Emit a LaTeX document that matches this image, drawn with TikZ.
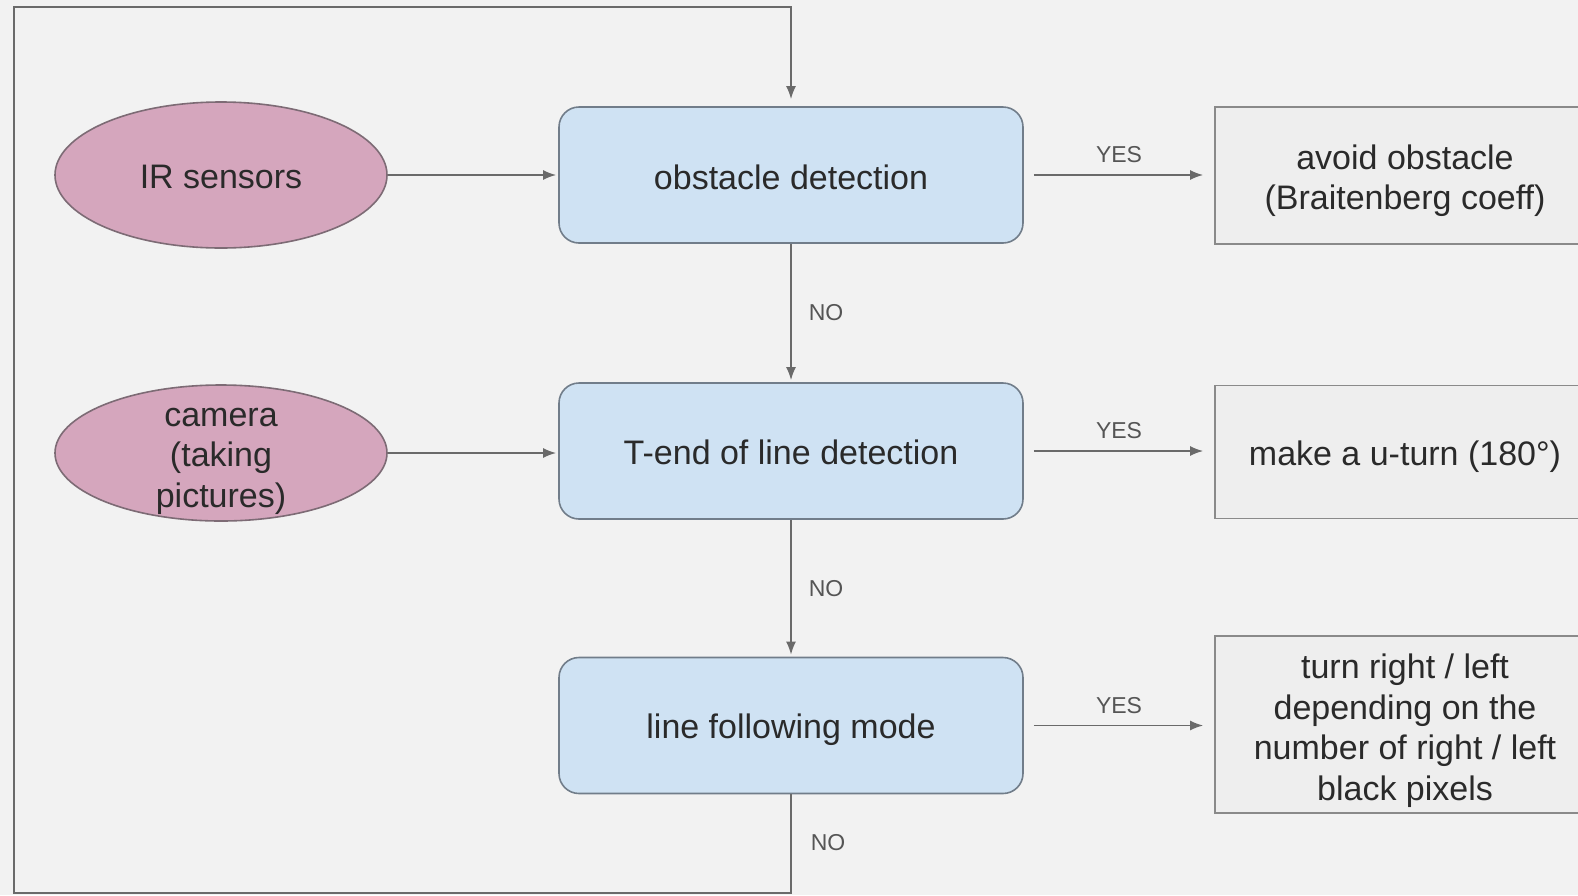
\documentclass[tikz,border=0pt]{standalone}
\usepackage{fontspec}
\setmainfont{Liberation Sans}
\usetikzlibrary{arrows.meta,shapes.geometric}
\definecolor{bg}{HTML}{F2F2F2}
\definecolor{bluefill}{HTML}{CFE2F3}
\definecolor{blueedge}{HTML}{717D8A}
\definecolor{pinkfill}{HTML}{D5A6BD}
\definecolor{pinkedge}{HTML}{7D6B75}
\definecolor{greyfill}{HTML}{EEEEEE}
\definecolor{greyedge}{HTML}{8A8A8A}
\definecolor{wire}{HTML}{6A6A6A}
\definecolor{ink}{HTML}{2A2A2A}
\definecolor{labelgrey}{HTML}{555555}

\begin{document}
\begin{tikzpicture}[x=1pt,y=-1pt,
  every node/.style={font=\fontsize{34}{40.5}\selectfont, text=ink},
  decision/.style={draw=blueedge, fill=bluefill, line width=1.6pt,
    rounded corners=20pt, minimum width=464pt, minimum height=136pt, inner sep=0pt},
  sensor/.style={ellipse, draw=pinkedge, fill=pinkfill, line width=1.6pt,
    minimum width=332pt, minimum height=146pt, inner sep=0pt},
  action/.style={draw=greyedge, fill=greyfill, line width=1.6pt,
    minimum width=380pt, inner sep=0pt},
  caption/.style={align=center, inner sep=0pt},
  flow/.style={draw=wire, line width=1.8pt, -{Latex[length=13pt,width=10pt]}},
  tag/.style={font=\fontsize{23}{26}\selectfont, text=labelgrey, inner sep=0pt},
]
% canvas
\path[use as bounding box] (0,0) rectangle (1578,895);
\fill[bg] (0,0) rectangle (1578,895);
\clip (0,0) rectangle (1578,895);

% inputs
\node[sensor] (ir) at (221,175) {};
\node[caption] (irtext) at ([yshift=-2pt]ir.center) {IR sensors};
\node[sensor, minimum height=136pt] (cam) at (221,453) {};
\node[caption] (camtext) at (221,461) {camera\\(taking\\pictures)};

% decision steps
\node[decision] (od) at (791,175) {};
\node[caption] (odtext) at ([yshift=-2.5pt]od.center) {obstacle detection};
\node[decision] (tl) at (791,451) {};
\node[caption] (tltext) at ([yshift=-1.5pt]tl.center) {T-end of line detection};
\node[decision] (lf) at (791,725.5) {};
\node[caption] (lftext) at ([yshift=-4pt]lf.center) {line following mode};

% actions
\node[action, minimum height=137pt] (avoid) at (1405,175.5) {};
\node[caption] (avoidtext) at ([yshift=-5pt]avoid.center) {avoid obstacle\\(Braitenberg coeff)};
\node[action, minimum height=133pt] (uturn) at (1405,452) {};
\node[caption] (uturntext) at ([yshift=-5pt]uturn.center) {make a u-turn (180°)};
\node[action, minimum height=177pt] (turn) at (1405,724.5) {};
\node[caption] (turntext) at ([yshift=-6pt]turn.center) {turn right / left\\depending on the\\number of right / left\\black pixels};

% sensor inputs
\draw[flow, shorten >=2pt] (ir.east) -- (ir.east -| od.west);
\draw[flow, shorten >=2pt] (cam.east) -- (cam.east -| tl.west);

% yes branches
\draw[flow, shorten <=10pt, shorten >=11pt] (od.east) -- (od.east -| avoid.west)
  node[tag, midway, yshift=20pt] (yes1) {YES};
\draw[flow, shorten <=10pt, shorten >=11pt] (tl.east) -- (tl.east -| uturn.west)
  node[tag, midway, yshift=20pt] (yes2) {YES};
\draw[flow, shorten <=10pt, shorten >=11pt] (lf.east) -- (lf.east -| turn.west)
  node[tag, midway, yshift=20pt] (yes3) {YES};

% no branches
\draw[flow, shorten >=2pt] (od.south) -- (tl.north)
  node[tag, midway, xshift=35pt] (no1) {NO};
\draw[flow, shorten >=2pt] (tl.south) -- (lf.north)
  node[tag, midway, xshift=35pt] (no2) {NO};

% loop back to the start
\coordinate (loopbl) at (14,893);
\coordinate (looptl) at (14,7);
\draw[flow, shorten >=7pt] (lf.south) |- (loopbl) -- (looptl) -| (od.north);
\node[tag] (no3) at (828,843) {NO};
\end{tikzpicture}
\end{document}
